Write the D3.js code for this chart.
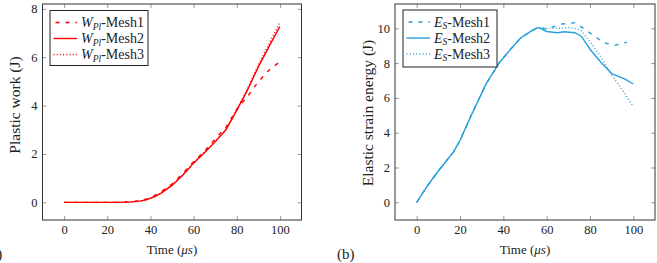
<!DOCTYPE html>
<html>
<head>
<meta charset="utf-8">
<script src="https://cdn.jsdelivr.net/npm/d3@7"></script>
<style>
body { margin: 0; background: #fff; }
text { font-family: "Liberation Serif", "Times New Roman", serif; fill: #222; }
</style>
</head>
<body>
<div id="chart"></div>
<script>
// ---- data ----
const xTicks = [0, 20, 40, 60, 80, 100];
const wpTicks = [0, 2, 4, 6, 8];
const esTicks = [0, 2, 4, 6, 8, 10];

// (a) plastic work
const wpTime1 = [0, 5, 10, 15, 20, 25, 30, 35, 40, 45, 50, 55, 60, 65, 70, 75, 80, 85, 88, 91.5, 95, 100];
const wpMesh1 = [0, 0, 0, 0, 0, 0, 0.02, 0.06, 0.18, 0.44, 0.76, 1.2, 1.68, 2.1, 2.62, 3.1, 3.85, 4.38, 4.76, 5.13, 5.47, 5.82];
const wpTime2 = [0, 5, 10, 15, 20, 25, 30, 35, 38, 42, 45, 50, 55, 60, 65, 70, 75, 80, 85, 90, 95, 100];
const wpMesh2 = [0, 0, 0, 0, 0, 0, 0.01, 0.05, 0.1, 0.24, 0.38, 0.7, 1.12, 1.62, 2.05, 2.5, 3.0, 3.8, 4.65, 5.6, 6.45, 7.27];
const wpTime3 = [0, 5, 10, 15, 20, 25, 30, 35, 38, 42, 45, 50, 55, 60, 65, 70, 75, 80, 85, 90, 95, 100];
const wpMesh3 = [0, 0, 0, 0, 0, 0, 0.01, 0.05, 0.1, 0.25, 0.39, 0.72, 1.14, 1.64, 2.07, 2.53, 3.02, 3.83, 4.7, 5.68, 6.55, 7.45];

// (b) elastic strain energy
const esTime1 = [0, 5, 10, 17, 20, 25, 32, 38, 43, 48, 53, 56, 60, 67, 73, 77, 82, 86.5, 91.5, 97];
const esMesh1 = [0, 0.95, 1.8, 2.9, 3.55, 4.95, 6.8, 8.0, 8.75, 9.45, 9.85, 10.05, 9.95, 10.25, 10.32, 10.0, 9.56, 9.17, 9.02, 9.2];
const esTime2 = [0, 5, 10, 17, 20, 25, 32, 38, 43, 48, 53, 56, 60, 65, 68, 73, 76, 80, 85, 90, 96, 100];
const esMesh2 = [0, 0.95, 1.8, 2.9, 3.55, 4.95, 6.8, 8.0, 8.75, 9.45, 9.85, 10.05, 9.82, 9.75, 9.8, 9.75, 9.55, 8.8, 8.05, 7.4, 7.1, 6.8];
const esTime3 = [0, 5, 10, 17, 20, 25, 32, 38, 43, 48, 53, 56, 60, 65, 70, 73, 76, 80, 85, 90, 95, 100];
const esMesh3 = [0, 0.95, 1.8, 2.9, 3.55, 4.95, 6.8, 8.0, 8.75, 9.45, 9.85, 10.05, 10.0, 10.0, 10.05, 10.0, 9.86, 9.23, 8.37, 7.3, 6.45, 5.49];

const seriesNames = ['Mesh1', 'Mesh2', 'Mesh3'];

const red = '#ff0000';
const blue = '#28a0da';
const dashes = ['4,6', null, '1,2.2'];

const width = 657;
const height = 263;

const svg = d3.select('#chart')
    .append('svg')
        .attr('width', width)
        .attr('height', height);

const panels = [
    {
        left: 42.5, right: 301.5, top: 4, bottom: 220,
        xDomain: [-10, 110], yDomain: [-0.73, 8.2],
        yTicks: wpTicks, yLabel: 'Plastic work (J)', yLabelX: 20, yLabelY: 105,
        color: red, sym: 'W', sub: 'Pl',
        series: [[wpTime1, wpMesh1], [wpTime2, wpMesh2], [wpTime3, wpMesh3]],
        legend: {x: 50, y: 10.5, w: 98, h: 55},
        tag: '(a)', tagX: -14.5
    },
    {
        left: 395, right: 655, top: 4, bottom: 220,
        xDomain: [-10, 110], yDomain: [-1.02, 11.4],
        yTicks: esTicks, yLabel: 'Elastic strain energy (J)', yLabelX: 373, yLabelY: 113,
        color: blue, sym: 'E', sub: 'S',
        series: [[esTime1, esMesh1], [esTime2, esMesh2], [esTime3, esMesh3]],
        legend: {x: 403, y: 10, w: 94, h: 57},
        tag: '(b)', tagX: 337
    }
];

const drawPanel = (p) => {
    const xScale = d3.scaleLinear().domain(p.xDomain).range([p.left, p.right]);
    const yScale = d3.scaleLinear().domain(p.yDomain).range([p.bottom, p.top]);
    const g = svg.append('g');

    // inward ticks on all four sides
    g.append('g')
        .attr('transform', `translate(0,${p.bottom})`)
        .call(d3.axisBottom(xScale).tickValues(xTicks).tickSizeInner(-4).tickSizeOuter(0).tickPadding(5))
        .call(a => a.select('.domain').remove())
        .call(a => a.selectAll('.tick line').attr('stroke', '#9a9a9a'))
        .call(a => a.selectAll('.tick text').style('font-size', '12.5px').attr('fill', '#222'));

    g.append('g')
        .attr('transform', `translate(0,${p.top})`)
        .call(d3.axisTop(xScale).tickValues(xTicks).tickSizeInner(-4).tickSizeOuter(0).tickFormat(''))
        .call(a => a.select('.domain').remove())
        .call(a => a.selectAll('.tick line').attr('stroke', '#9a9a9a'));

    g.append('g')
        .attr('transform', `translate(${p.left},0)`)
        .call(d3.axisLeft(yScale).tickValues(p.yTicks).tickSizeInner(-4).tickSizeOuter(0).tickPadding(5))
        .call(a => a.select('.domain').remove())
        .call(a => a.selectAll('.tick line').attr('stroke', '#9a9a9a'))
        .call(a => a.selectAll('.tick text').style('font-size', '12.5px').attr('fill', '#222'));

    g.append('g')
        .attr('transform', `translate(${p.right},0)`)
        .call(d3.axisRight(yScale).tickValues(p.yTicks).tickSizeInner(-4).tickSizeOuter(0).tickFormat(''))
        .call(a => a.select('.domain').remove())
        .call(a => a.selectAll('.tick line').attr('stroke', '#9a9a9a'));

    // series
    const line = d3.line()
        .x(d => xScale(d[0]))
        .y(d => yScale(d[1]));

    p.series.forEach((s, i) => {
        g.append('path')
            .datum(d3.zip(s[0], s[1]))
            .attr('d', line)
            .attr('fill', 'none')
            .attr('stroke', p.color)
            .attr('stroke-width', 1.4)
            .attr('stroke-dasharray', dashes[i]);
    });

    // frame
    g.append('rect')
        .attr('x', p.left)
        .attr('y', p.top)
        .attr('width', p.right - p.left)
        .attr('height', p.bottom - p.top)
        .attr('fill', 'none')
        .attr('stroke', '#333')
        .attr('stroke-width', 1);

    // legend
    const lg = g.append('g').attr('transform', `translate(${p.legend.x},${p.legend.y})`);
    lg.append('rect')
        .attr('width', p.legend.w)
        .attr('height', p.legend.h)
        .attr('fill', '#fff')
        .attr('stroke', '#222')
        .attr('stroke-width', 1);

    seriesNames.forEach((name, i) => {
        const yy = 12 + i * 16;
        lg.append('line')
            .attr('x1', 3.5).attr('x2', 27)
            .attr('y1', yy).attr('y2', yy)
            .attr('stroke', p.color)
            .attr('stroke-width', 1.4)
            .attr('stroke-dasharray', dashes[i])
            .attr('stroke-dashoffset', i === 0 ? -2 : 0);
        const t = lg.append('text')
            .attr('x', 31)
            .attr('y', yy + 4.5)
            .style('font-size', '14px');
        t.append('tspan').style('font-style', 'italic').text(p.sym);
        t.append('tspan').style('font-style', 'italic').style('font-size', '9.5px').attr('dy', 2.5).text(p.sub);
        t.append('tspan').attr('dy', -2.5).text('-' + name);
    });

    // axis labels
    g.append('text')
        .attr('x', (p.left + p.right) / 2)
        .attr('y', 254)
        .attr('text-anchor', 'middle')
        .style('font-size', '13px')
        .call(t => {
            t.append('tspan').text('Time (');
            t.append('tspan').style('font-style', 'italic').text('\u03bcs');
            t.append('tspan').text(')');
        });

    g.append('text')
        .attr('transform', `translate(${p.yLabelX},${p.yLabelY}) rotate(-90)`)
        .attr('text-anchor', 'middle')
        .style('font-size', '15.5px')
        .text(p.yLabel);

    g.append('text')
        .attr('x', p.tagX)
        .attr('y', 259)
        .style('font-size', '15px')
        .text(p.tag);
};

panels.forEach(drawPanel);
</script>
</body>
</html>
